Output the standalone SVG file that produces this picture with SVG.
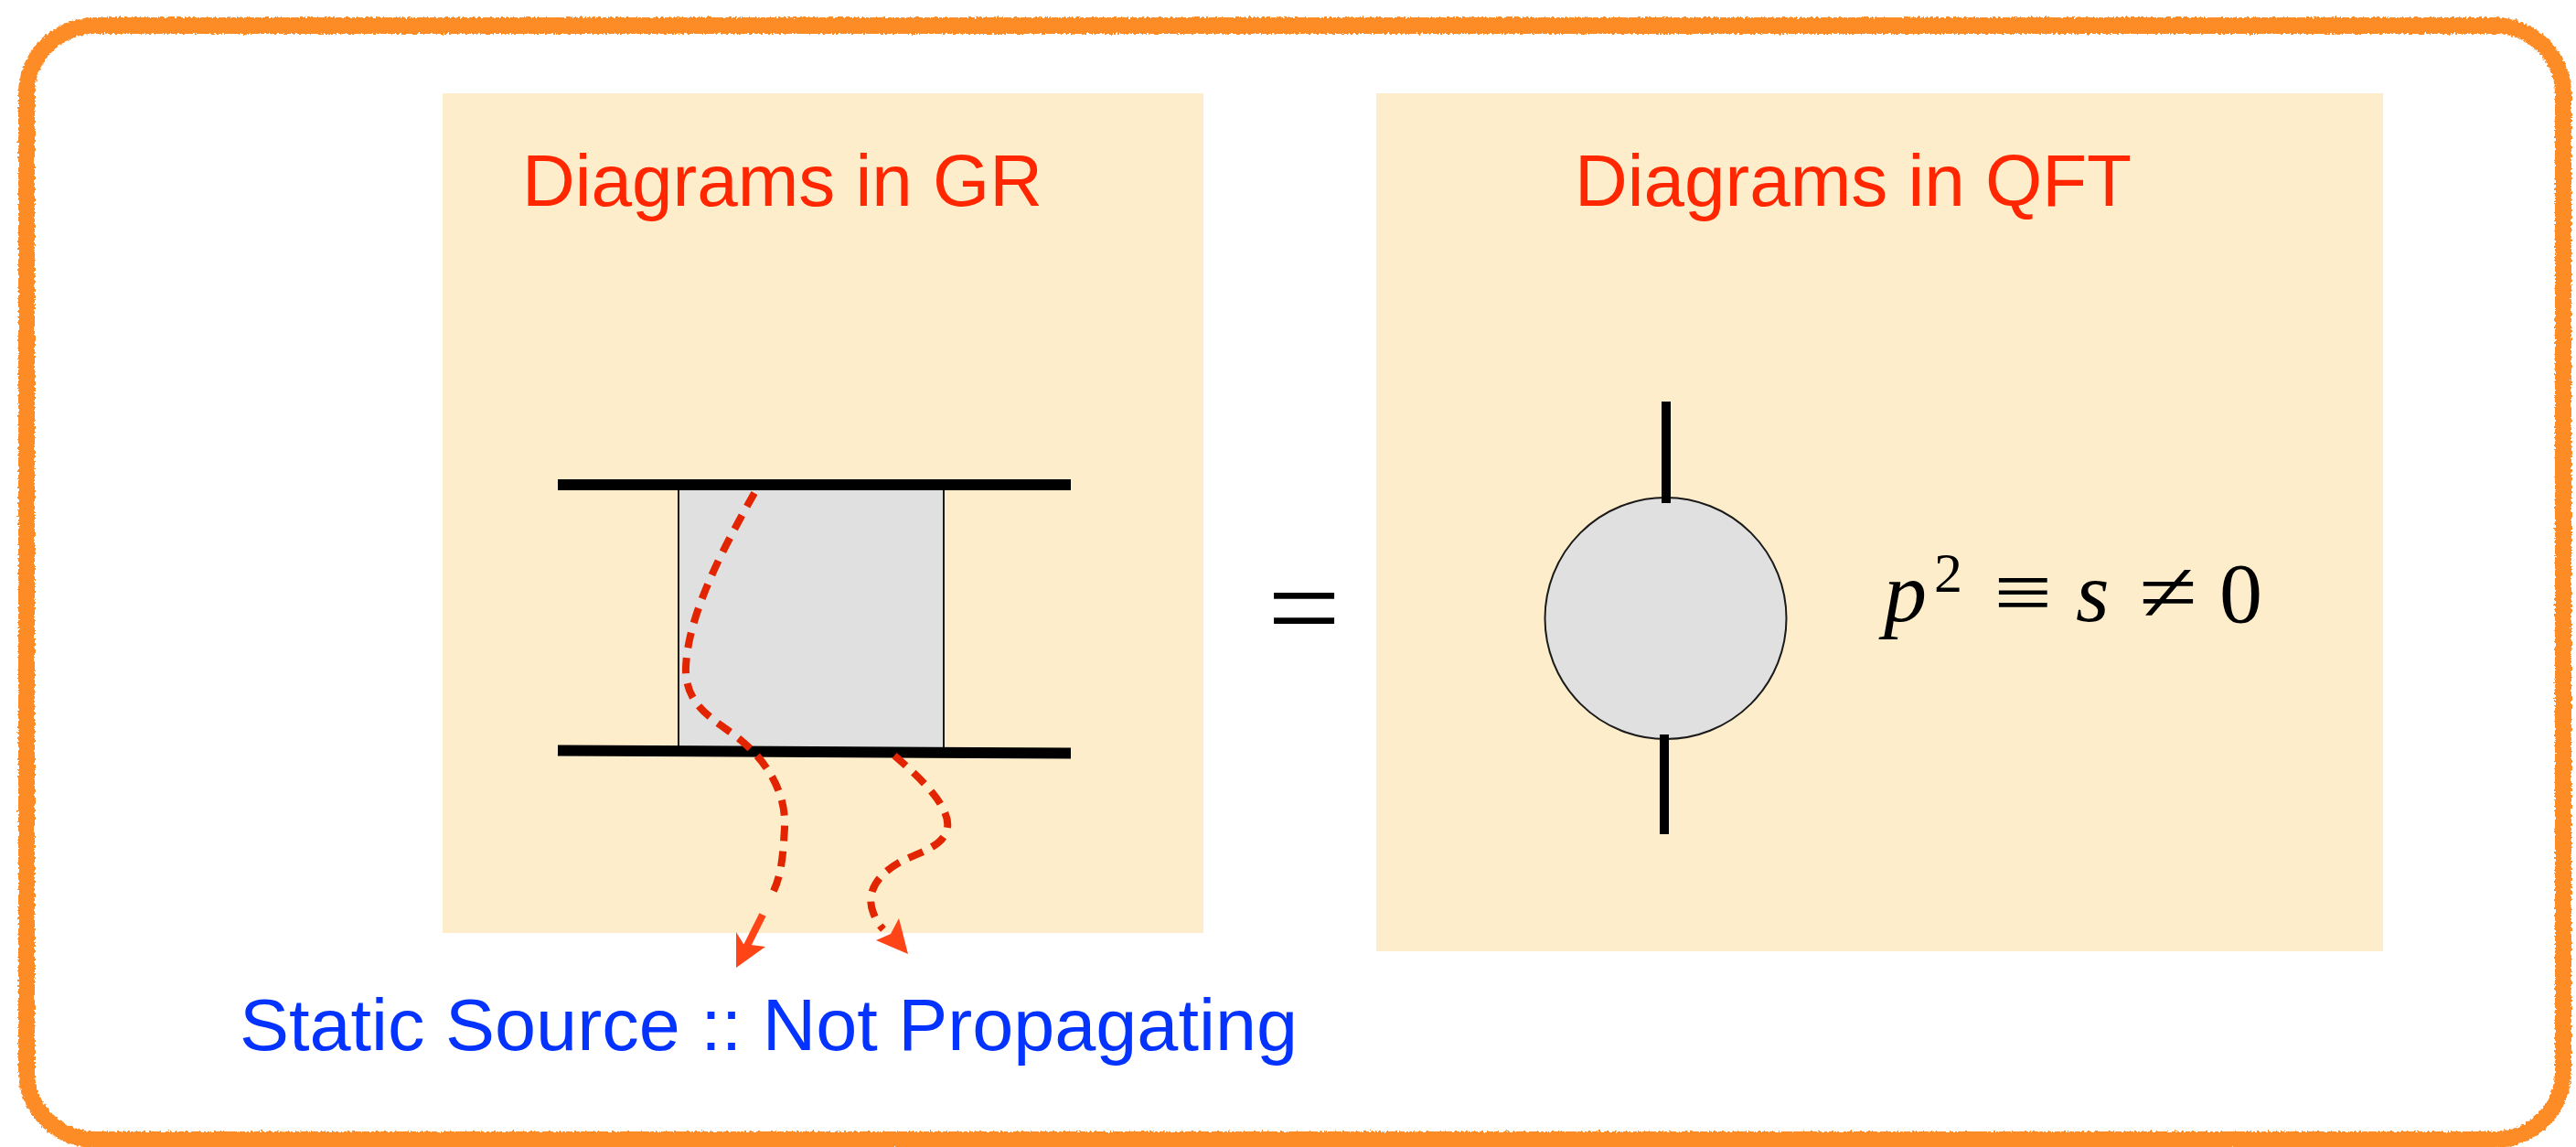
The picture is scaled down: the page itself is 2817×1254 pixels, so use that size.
<svg xmlns="http://www.w3.org/2000/svg" width="2817" height="1254" viewBox="0 0 2817 1254">
<style>
.panel{fill:#FDEDCA;}
.title{font-family:"Liberation Sans",Arial,sans-serif;font-size:80px;fill:#FF2600;}
.caption{font-family:"Liberation Sans",Arial,sans-serif;font-size:80px;fill:#0433FF;}
.bar{stroke:#000;stroke-width:12;fill:none;}
.blob{fill:#E0E0E0;stroke:#1a1a1a;stroke-width:2;}
.leg{stroke:#000;stroke-width:10;fill:none;}
.dash{fill:none;stroke:#E32400;stroke-width:8;stroke-dasharray:17 11;}
.shaft{fill:none;stroke:#FF4417;stroke-width:8;}
.head{fill:#FF4417;}
.math{font-family:"Liberation Serif","Times New Roman",serif;fill:#000;}
</style>
<defs>
<filter id="rough" x="-2%" y="-3%" width="104%" height="106%">
<feTurbulence type="fractalNoise" baseFrequency="0.35" numOctaves="2" seed="7" result="noise"/>
<feDisplacementMap in="SourceGraphic" in2="noise" scale="5" xChannelSelector="R" yChannelSelector="G"/>
</filter>
</defs>
<rect width="2817" height="1254" fill="#FFFFFF"/>

<g id="frame">
<rect x="29" y="28" width="2774" height="1218" rx="75" ry="75" fill="none" stroke="#FD8B26" stroke-width="18" filter="url(#rough)"/>
</g>

<g id="panel-gr">
<rect class="panel" x="484" y="102" width="832" height="918"/>
<text class="title" x="571" y="225">Diagrams in GR</text>
</g>

<g id="panel-qft">
<rect class="panel" x="1505" y="102" width="1101" height="938"/>
<text class="title" x="1722" y="225">Diagrams in QFT</text>
</g>

<g id="gr-diagram">
<rect class="blob" x="742" y="530" width="290" height="292"/>
<line class="bar" x1="610" y1="530" x2="1171" y2="530"/>
<line class="bar" x1="610" y1="820.5" x2="1171" y2="823.5"/>
</g>

<g id="equals">
<text class="math" x="1386" y="710" font-size="135" textLength="80" lengthAdjust="spacingAndGlyphs">=</text>
</g>

<g id="qft-diagram">
<circle class="blob" cx="1821.5" cy="676" r="132"/>
<line class="leg" x1="1822" y1="439" x2="1822" y2="550"/>
<line class="leg" x1="1820" y1="803" x2="1820" y2="912"/>
</g>

<g id="equation">
<text class="math" x="2060" y="679" font-size="94" font-style="italic">p</text>
<text class="math" x="2115" y="647" font-size="62">2</text>
<text class="math" x="2180" y="679" font-size="94" textLength="64" lengthAdjust="spacingAndGlyphs">≡</text>
<text class="math" x="2270" y="679" font-size="94" font-style="italic">s</text>
<text class="math" x="2339" y="679" font-size="94" textLength="64" lengthAdjust="spacingAndGlyphs">≠</text>
<text class="math" x="2427" y="680" font-size="94">0</text>
</g>

<g id="caption">
<text class="caption" x="262" y="1148" textLength="1157" lengthAdjust="spacingAndGlyphs">Static Source :: Not Propagating</text>
</g>

<g id="connectors">
<path class="dash" d="M825,539 C795,592 752,670 750,730 C749,770 778,785 805,805 C840,832 860,868 858,905 C856,940 854,960 843,980"/>
<line class="shaft" x1="834" y1="1000" x2="814" y2="1040"/>
<polygon class="head" points="805,1058 805,1019 813,1032 837,1035"/>
<path class="dash" d="M978,826 C1000,845 1040,880 1036,905 C1033,925 1005,932 985,942 C960,956 946,975 955,998 C958,1006 962,1012 966,1016"/>
<polygon class="head" points="993,1043 958,1028 974,1021 983,1004"/>
</g>
</svg>
